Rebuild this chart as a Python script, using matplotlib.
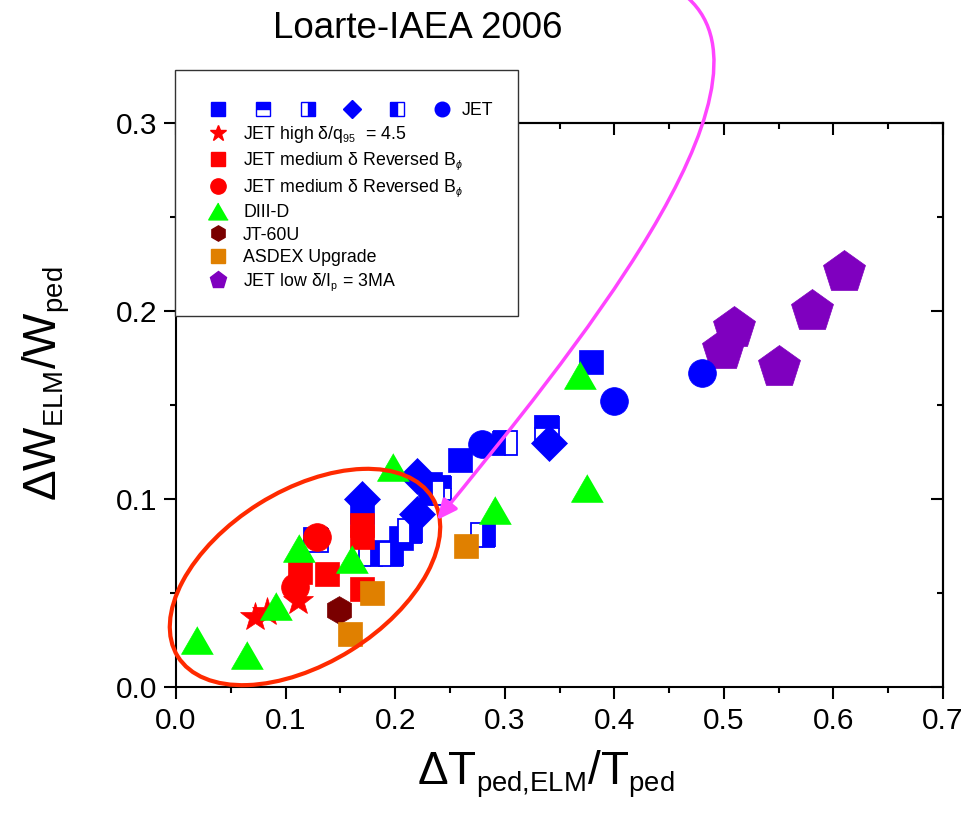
import matplotlib
matplotlib.use("Agg")
import matplotlib.pyplot as plt
from matplotlib.lines import Line2D
from matplotlib.patches import Ellipse, Rectangle, FancyArrowPatch
from matplotlib.path import Path
from matplotlib.legend_handler import HandlerTuple
from matplotlib.ticker import MultipleLocator

try:  # slightly smaller sub/superscripts than the mathtext default
    import matplotlib._mathtext as _mt
    _mt.SHRINK_FACTOR = 0.6
except Exception:
    pass

plt.rcParams["font.family"] = ["Liberation Sans", "DejaVu Sans"]
plt.rcParams["mathtext.fontset"] = "custom"
plt.rcParams["mathtext.rm"] = "Liberation Sans"
plt.rcParams["mathtext.it"] = "Liberation Sans:italic"
plt.rcParams["mathtext.bf"] = "Liberation Sans:bold"

# ---- data: dT_ped,ELM/T_ped (x) vs dW_ELM/W_ped (y) ----
# JET, blue symbols by sub-series
jet_sq_x = [0.379, 0.259, 0.232, 0.205, 0.189, 0.170]
jet_sq_y = [0.173, 0.121, 0.108, 0.079, 0.072, 0.093]
jet_top_x = [0.339, 0.240, 0.128]
jet_top_y = [0.138, 0.106, 0.078]
jet_right_x = [0.178, 0.196, 0.280, 0.214]
jet_right_y = [0.071, 0.071, 0.081, 0.083]
jet_left_x = [0.300, 0.234]
jet_left_y = [0.130, 0.103]
jet_circ_x = [0.480, 0.400, 0.279]
jet_circ_y = [0.167, 0.152, 0.129]
jet_dia_x = [0.340, 0.170, 0.220, 0.220]
jet_dia_y = [0.130, 0.100, 0.112, 0.092]

# JET high delta / q95 = 4.5
jet_high_x = [0.072, 0.083, 0.111]
jet_high_y = [0.037, 0.040, 0.046]
# JET medium delta, reversed B_phi
jet_rev_sq_x = [0.113, 0.138, 0.170, 0.170, 0.170]
jet_rev_sq_y = [0.061, 0.060, 0.052, 0.080, 0.086]
jet_rev_circ_x = [0.129, 0.109]
jet_rev_circ_y = [0.080, 0.053]
# DIII-D
d3d_x = [0.019, 0.065, 0.091, 0.112, 0.161, 0.198, 0.291, 0.369, 0.375]
d3d_y = [0.025, 0.017, 0.043, 0.074, 0.068, 0.117, 0.094, 0.166, 0.106]
# JT-60U
jt60_x = [0.149]
jt60_y = [0.041]
# ASDEX Upgrade
aug_x = [0.179, 0.159, 0.265]
aug_y = [0.050, 0.028, 0.075]
# JET low delta / Ip = 3MA
jet_low_x = [0.610, 0.580, 0.509, 0.499, 0.550]
jet_low_y = [0.221, 0.200, 0.191, 0.179, 0.170]

labels = [
    "JET high δ/q$_{95}$  = 4.5",
    "JET medium δ Reversed B$_{\\phi}$",
    "JET medium δ Reversed B$_{\\phi}$",
    "DIII-D",
    "JT-60U",
    "ASDEX Upgrade",
    "JET low δ/I$_{\\mathrm{p}}$ = 3MA",
]

BLUE = "#0000ff"
RED = "#ff0000"
GREEN = "#00ff00"
DARKRED = "#7a0000"
ORANGE = "#e08000"
PURPLE = "#7f00bf"
TRI = [(0, 0.433), (-0.5, -0.433), (0.5, -0.433)]

W, H, DPI = 967, 817, 100
fig = plt.figure(figsize=(W / DPI, H / DPI), dpi=DPI)
ax = fig.add_axes([176 / W, 1 - 687 / H, (943 - 176) / W, (687 - 123) / H])


def pts(x, y, marker, ms, color, **kw):
    opts = dict(linestyle="none", marker=marker, ms=ms, color=color,
                mec=color, mew=0.5)
    opts.update(kw)
    ax.plot(x, y, **opts)


def half(x, y, style):
    ax.plot(x, y, linestyle="none", marker="s", ms=17, fillstyle=style,
            mfc=BLUE, mfcalt="white", mec=BLUE, mew=1.3)


pts(jet_low_x, jet_low_y, "p", 31.5, PURPLE)
pts(jet_sq_x, jet_sq_y, "s", 17, BLUE)
half(jet_top_x, jet_top_y, "top")
pts(jet_circ_x, jet_circ_y, "o", 20, BLUE)
half(jet_right_x, jet_right_y, "right")
half(jet_left_x, jet_left_y, "left")
pts(jet_dia_x, jet_dia_y, "D", 18, BLUE)
pts(jet_high_x, jet_high_y, "*", 22, RED)
pts(jet_rev_sq_x, jet_rev_sq_y, "s", 17.5, RED)
pts(jet_rev_circ_x, jet_rev_circ_y, "o", 20, RED)
pts(jt60_x, jt60_y, "h", 20, DARKRED)
pts(aug_x, aug_y, "s", 17.5, ORANGE)
pts(d3d_x, d3d_y, TRI, 23, GREEN)

ax.set_xlim(0, 0.7)
ax.set_ylim(0, 0.3)
for a in (ax.xaxis, ax.yaxis):
    a.set_major_locator(MultipleLocator(0.1))
    a.set_minor_locator(MultipleLocator(0.05))
ax.xaxis.set_major_formatter(plt.FormatStrFormatter("%.1f"))
ax.yaxis.set_major_formatter(plt.FormatStrFormatter("%.1f"))
for s in ax.spines.values():
    s.set_linewidth(1.5)
ax.tick_params(which="both", direction="out", width=1.5, labelsize=21.5)
ax.tick_params(which="major", length=8.5)
ax.tick_params(which="minor", length=4.5)
ax.tick_params(axis="x", pad=6)
ax.tick_params(axis="y", pad=5)

# mirrored inward ticks on top and right
top = ax.secondary_xaxis("top")
right = ax.secondary_yaxis("right")
for sec, a in ((top, top.xaxis), (right, right.yaxis)):
    a.set_major_locator(MultipleLocator(0.1))
    a.set_minor_locator(MultipleLocator(0.05))
    sec.tick_params(which="both", direction="in", width=1.5,
                    labeltop=False, labelright=False,
                    labelbottom=False, labelleft=False)
    sec.tick_params(which="major", length=8.5)
    sec.tick_params(which="minor", length=4)
    for s in sec.spines.values():
        s.set_linewidth(1.5)

# axis titles and heading
fig.text(546 / W, 1 - 774 / H,
         "ΔT$_{\\mathrm{ped{,}ELM}}$/T$_{\\mathrm{ped}}$",
         fontsize=33, ha="center", va="center")
fig.text(46 / W, 1 - 384 / H, "ΔW$_{\\mathrm{ELM}}$/W$_{\\mathrm{ped}}$",
         fontsize=33, ha="center", va="center", rotation=90)
fig.text(418 / W, 1 - 28 / H, "Loarte-IAEA 2006", fontsize=26.5,
         ha="center", va="center")

# legend box
inch = fig.dpi_scale_trans
fig.add_artist(Rectangle((175 / DPI, (H - 316) / DPI), 343 / DPI, 246 / DPI,
                         transform=inch, facecolor="white",
                         edgecolor="#333333", lw=1.0, zorder=3))

FS = 12.8
jet_handles = (
    Line2D([], [], ls="none", marker="s", ms=10, color=BLUE),
    Line2D([], [], ls="none", marker="s", ms=10, fillstyle="top",
           mfc=BLUE, mfcalt="white", mec=BLUE, mew=1),
    Line2D([], [], ls="none", marker="s", ms=10, fillstyle="right",
           mfc=BLUE, mfcalt="white", mec=BLUE, mew=1),
    Line2D([], [], ls="none", marker="D", ms=9.5, color=BLUE),
    Line2D([], [], ls="none", marker="s", ms=10, fillstyle="left",
           mfc=BLUE, mfcalt="white", mec=BLUE, mew=1),
    Line2D([], [], ls="none", marker="o", ms=10.5, color=BLUE),
)
leg1 = fig.legend([jet_handles], ["JET"],
                  handler_map={tuple: HandlerTuple(ndivide=None, pad=0.8)},
                  loc="upper left", bbox_to_anchor=(202.7 / W, 1 - 102 / H),
                  frameon=False, borderpad=0, borderaxespad=0,
                  handlelength=14.32, handletextpad=0.26, fontsize=FS)

other_handles = [
    Line2D([], [], ls="none", marker="*", ms=12, color=RED),
    Line2D([], [], ls="none", marker="s", ms=10, color=RED),
    Line2D([], [], ls="none", marker="o", ms=11, color=RED),
    Line2D([], [], ls="none", marker=TRI, ms=14, color=GREEN),
    Line2D([], [], ls="none", marker="h", ms=11, color=DARKRED),
    Line2D([], [], ls="none", marker="s", ms=10, color=ORANGE),
    Line2D([], [], ls="none", marker="p", ms=12.5, color=PURPLE),
]
leg2 = fig.legend(other_handles, labels, loc="upper left",
                  bbox_to_anchor=(204 / W, 1 - 124 / H), frameon=False,
                  borderpad=0, borderaxespad=0, handlelength=1.6,
                  handletextpad=0.6, labelspacing=0.3, fontsize=FS)

# highlighted region and pointer
fig.add_artist(Ellipse((305 / DPI, (H - 577) / DPI), 300 / DPI, 173 / DPI,
                       angle=32, transform=inch, fill=False,
                       edgecolor="#ff2a00", lw=3, zorder=4))
verts = [(688, -2), (790, 90), (567, 360), (437, 520)]
arrow_path = Path([(x / DPI, (H - y) / DPI) for x, y in verts],
                  [Path.MOVETO, Path.CURVE4, Path.CURVE4, Path.CURVE4])
fig.add_artist(FancyArrowPatch(path=arrow_path, transform=inch,
                               arrowstyle="-|>,head_length=1.2,head_width=0.55",
                               mutation_scale=10, color="#ff44ff", lw=2.5,
                               zorder=4))

fig.savefig("out.png", dpi=DPI)
